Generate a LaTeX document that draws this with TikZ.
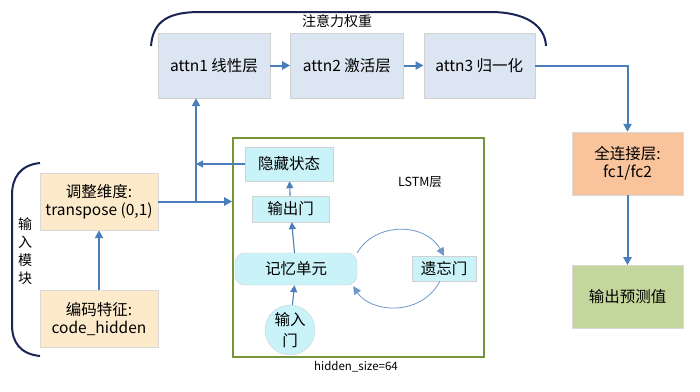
\documentclass[tikz,border=0pt]{standalone}
\usepackage{fontspec}
\setmainfont{Noto Sans CJK SC}
\usepackage{xcolor}
\usetikzlibrary{positioning, arrows.meta, shapes.geometric}

\definecolor{attnfill}{HTML}{DCE6F2}
\definecolor{cellfill}{HTML}{C9F3F9}
\definecolor{infill}{HTML}{FDEACB}
\definecolor{fcfill}{HTML}{F9C49C}
\definecolor{outfill}{HTML}{C3D69B}
\definecolor{linkblue}{HTML}{4A7EBB}
\definecolor{lstmline}{HTML}{77933C}
\definecolor{bracenavy}{HTML}{1B2454}

\begin{document}
\begin{tikzpicture}[
  x=1pt, y=-1pt,
  every node/.style={font=\fontsize{15.5}{18}\selectfont, inner sep=1pt},
  attn/.style={draw=black!18, fill=attnfill, minimum height=65pt, align=center},
  cell/.style={draw=black!18, fill=cellfill, align=center},
  inbox/.style={draw=black!15, fill=infill, minimum width=118pt, minimum height=57pt, align=center},
  headbox/.style={draw=black!15, minimum width=111pt, minimum height=63pt, align=center},
  arrow/.style={-{Triangle[length=8pt,width=8pt]}, linkblue, line width=2pt},
  thinarrow/.style={-{Triangle[length=7pt,width=7pt]}, linkblue, line width=1.1pt},
  loop/.style={-{Triangle[length=8pt,width=8pt]}, linkblue!80, line width=0.8pt},
  brace/.style={bracenavy, line width=2pt},
]
\useasboundingbox (0,0) rectangle (700,391);

% Attention weights
\node[attn, minimum width=112pt] (attn1) at (214,65.5) {attn1 线性层};
\node[attn, minimum width=113pt, right=20pt of attn1] (attn2) {attn2 激活层};
\node[attn, minimum width=111pt, right=20pt of attn2] (attn3) {attn3 归一化};
\draw[brace] (151,46) .. controls (153,20) and (170,12) .. (200,12)
  -- (490,12) .. controls (525,12) and (545,25) .. (546,46);
\node[font=\fontsize{14}{16}\selectfont] (attnlbl) at (337,21) {注意力权重};

% Head
\node[headbox, fill=fcfill] (fc) at (627.5,163.5) {全连接层:\\fc1/fc2};
\node[headbox, fill=outfill, below=70pt of fc] (output) {输出预测值};

% LSTM layer
\node[draw=lstmline, line width=1.6pt, minimum width=251pt, minimum height=219pt] (lstm) at (358.5,247.5) {};
\node[font=\fontsize{12.5}{14}\selectfont] (lstmlbl) at (420,182) {LSTM层};
\node[font=\fontsize{11.5}{13}\selectfont] (sizelbl) at (356,367) {hidden\_size=64};

\node[cell, minimum width=88pt, minimum height=34pt] (hidden) at (289,164) {隐藏状态};
\node[cell, minimum width=77pt, minimum height=26pt] (outgate) at (290.5,209) {输出门};
\node[cell, rounded corners=10pt, minimum width=122pt, minimum height=32pt] (mem) at (296,269) {记忆单元};
\node[cell, minimum width=64pt, minimum height=25pt] (forget) at (444,268.5) {遗忘门};
\node[circle, cell, minimum size=50pt, font=\fontsize{15.5}{21}\selectfont] (ingate) at (290,330) {输入\\门};

% Input module
\node[inbox] (trans) at (99,201.5) {调整维度:\\transpose (0,1)};
\node[inbox, below=60pt of trans] (enc) {编码特征:\\code\_hidden};
\draw[brace] (40,163) .. controls (20,165) and (12,178) .. (12,195)
  -- (12,325) .. controls (12,342) and (20,354) .. (40,356);
\node[align=center, font=\fontsize{14}{18}\selectfont] (inlbl) at (25,251) {输\\入\\模\\块};

% Arrows
\coordinate (split) at (196,202);
\draw[arrow] (enc) -- (trans);
\draw[arrow] (trans.east) -- (trans.east -| lstm.west);
\draw[arrow] (split) -- (split |- attn1.south);
\draw[thinarrow] (hidden.west) -- (hidden.west -| split);
\draw[arrow] (attn1) -- (attn2);
\draw[arrow] (attn2) -- (attn3);
\draw[arrow] (attn3.east) -| (fc.north);
\draw[arrow] (fc) -- (output);
\draw[thinarrow] (ingate) -- (mem);
\draw[thinarrow] (mem) -- (outgate);
\draw[thinarrow] (outgate) -- (hidden);
\draw[loop] (mem.north east) .. controls (375,222) and (425,222) .. (forget.north);
\draw[loop] ([xshift=-4pt]forget.south) .. controls (420,318) and (370,312) .. ([xshift=-4pt,yshift=-1pt]mem.south east);

\end{tikzpicture}
\end{document}
